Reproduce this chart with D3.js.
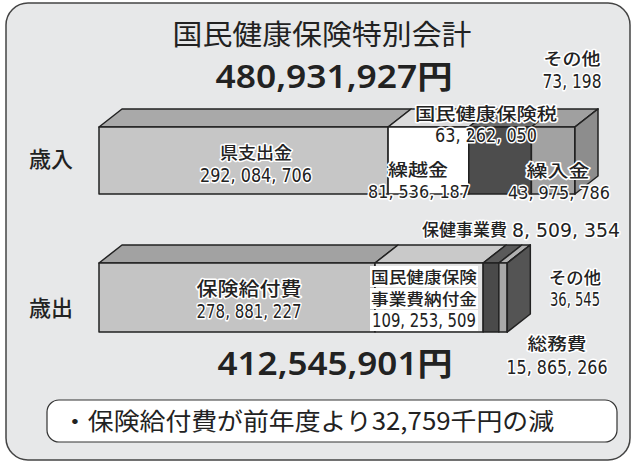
<!DOCTYPE html>
<meta charset="utf-8">
<style>
body { margin: 0; background: #fff; }
text { font-family: "Noto Sans CJK JP", sans-serif; fill: #222; }
text.num { font-family: "Liberation Sans Narrow", "DejaVu Sans Condensed", "Liberation Sans", sans-serif; }
text.big { font-family: "Noto Sans", "Noto Sans CJK JP", sans-serif; }
.halo { paint-order: stroke; stroke: #fff; stroke-width: 3px; stroke-linejoin: round; }
.face { stroke: #222; stroke-width: 1.5; stroke-linejoin: round; }
</style>
<body></body>
<script src="https://d3js.org/d3.v7.min.js"></script>
<script>
// data
var title = "国民健康保険特別会計";
var rowNames = ["歳入", "歳出"];
var incomeNames = ["県支出金", "繰越金", "国民健康保険税", "繰入金", "その他"];
var incomeValues = [292084706, 81536187, 63262050, 43975786, 73198];
var expenseNames = ["保険給付費", "国民健康保険事業費納付金", "総務費", "保健事業費", "その他"];
var expenseValues = [278881227, 109253509, 15865266, 8509354, 36545];
var note = "・保険給付費が前年度より32,759千円の減";

var width = 636, height = 464;
var incomeTotal = d3.sum(incomeValues), expenseTotal = d3.sum(expenseValues);

var svg = d3.select("body").append("svg")
    .attr("width", width)
    .attr("height", height);

// panel
svg.append("rect")
    .attr("x", 6).attr("y", 3).attr("width", 624).attr("height", 457)
    .attr("rx", 22)
    .attr("fill", "#e7e8e9").attr("stroke", "#444").attr("stroke-width", 1.5);

var x = d3.scaleLinear().domain([0, incomeTotal]).range([99, 575]);
var depthX = 23, depthY = 18;

var fmt = d3.format(",");
var spaced = function(v) { return fmt(v).replace(/,/g, ", "); };

function stack(values) {
  var acc = 0;
  return values.map(function(v, i) {
    var d = {i: i, v: v, x0: acc, x1: acc + v};
    acc += v;
    return d;
  });
}

// draw one 3d bar
function bar(values, y0, y1, front, top, side) {
  var g = svg.append("g");
  var segs = stack(values);
  g.selectAll(".top").data(segs).enter().append("path")
      .attr("class", "face")
      .attr("fill", function(d) { return top[d.i]; })
      .attr("d", function(d) {
        return "M" + x(d.x0) + "," + y0 + "L" + x(d.x1) + "," + y0 +
               "L" + (x(d.x1) + depthX) + "," + (y0 - depthY) +
               "L" + (x(d.x0) + depthX) + "," + (y0 - depthY) + "Z";
      });
  g.selectAll(".front").data(segs).enter().append("rect")
      .attr("class", "face")
      .attr("fill", function(d) { return front[d.i]; })
      .attr("x", function(d) { return x(d.x0); })
      .attr("y", y0)
      .attr("width", function(d) { return x(d.x1) - x(d.x0); })
      .attr("height", y1 - y0);
  var xe = x(d3.sum(values));
  g.append("path")
      .attr("class", "face")
      .attr("fill", side)
      .attr("d", "M" + xe + "," + y0 + "L" + (xe + depthX) + "," + (y0 - depthY) +
                 "L" + (xe + depthX) + "," + (y1 - depthY) + "L" + xe + "," + y1 + "Z");
  return g;
}

bar(incomeValues, 127, 194,
    ["#c6c6c6", "#ffffff", "#4d4d4d", "#a2a2a2", "#888"],
    ["#a9a9a9", "#dcdcdc", "#6a6a6a", "#a0a0a0", "#888"],
    "#8d8d8d");
bar(expenseValues, 263, 332,
    ["#c4c4c4", "#e2e2e2", "#4a4a4a", "#a8a8a8", "#555"],
    ["#a2a2a2", "#c9c9c9", "#5a5a5a", "#b0b0b0", "#555"],
    "#545454");

// text helper
function label(txt, cx, y, size, opts) {
  opts = opts || {};
  var cls = [];
  if (opts.halo) cls.push("halo");
  if (opts.num) cls.push("num");
  if (opts.big) cls.push("big");
  var t = svg.append("text")
      .attr("class", cls.join(" "))
      .attr("x", cx).attr("y", y)
      .attr("text-anchor", opts.anchor || "middle")
      .style("font-size", size + "px")
      .style("font-weight", opts.weight || 500)
      .text(txt);
  if (opts.len) t.attr("textLength", opts.len).attr("lengthAdjust", "spacingAndGlyphs");
  return t;
}

// titles
label(title, 322, 45, 28, {weight: 400, len: 299});
label(fmt(incomeTotal) + "円", 334, 88, 32, {weight: 600, big: true, len: 237});
label(fmt(expenseTotal) + "円", 335, 375, 32, {weight: 600, big: true, len: 235});

// row labels
label(rowNames[0], 51, 167, 22, {weight: 500});
label(rowNames[1], 51, 316, 22, {weight: 500});

// income labels
label(incomeNames[0], 256, 159, 17, {halo: true, len: 72});
label(spaced(incomeValues[0]), 256, 182, 19, {halo: true, num: true, len: 112});
label(incomeNames[1], 418, 176, 17, {halo: true, len: 60});
label(spaced(incomeValues[1]), 419, 198, 18, {halo: true, num: true, len: 102});
label(incomeNames[2], 486, 120, 17, {halo: true, len: 142});
label(spaced(incomeValues[2]), 486, 142, 19, {halo: true, num: true, len: 102});
label(incomeNames[3], 558, 177, 17, {halo: true, len: 63});
label(spaced(incomeValues[3]), 559, 199, 18, {halo: true, num: true, len: 102});
label(incomeNames[4], 572, 65, 17, {halo: true, len: 57});
label(spaced(incomeValues[4]), 572, 88, 19, {halo: true, num: true, len: 59});

// expense labels
label(expenseNames[0], 249, 296, 19, {halo: true, len: 105});
label(spaced(expenseValues[0]), 249, 318, 20, {halo: true, num: true, len: 105});

var nofu = [expenseNames[1].slice(0, 6), expenseNames[1].slice(6), spaced(expenseValues[1])];
nofu.forEach(function(s, i) {
  var by = 283 + i * 22;
  svg.append("rect")
      .attr("x", 370).attr("y", by - 17).attr("width", 108).attr("height", 21)
      .attr("fill", "#fff");
  if (i < 2) label(s, 424, by, 16, {len: 106});
  else label(s, 424, by, 19, {num: true, len: 104});
});

label(expenseNames[3], 422, 236, 17, {anchor: "start", halo: true, len: 85});
label(spaced(expenseValues[3]), 512, 237, 19, {anchor: "start", halo: true, num: true, len: 108});
label(expenseNames[4], 575, 284, 17, {halo: true, len: 52});
label(spaced(expenseValues[4]), 575, 306, 19, {halo: true, num: true, len: 50});
label(expenseNames[2], 557, 350, 17, {halo: true, len: 59});
label(spaced(expenseValues[2]), 557, 374, 19, {halo: true, num: true, len: 101});

// note box
svg.append("rect")
    .attr("x", 47).attr("y", 400).attr("width", 570).attr("height", 42)
    .attr("rx", 12)
    .attr("fill", "#fff").attr("stroke", "#333").attr("stroke-width", 1.2);
label(note, 62, 430, 24, {anchor: "start", weight: 400, len: 492});
</script>
